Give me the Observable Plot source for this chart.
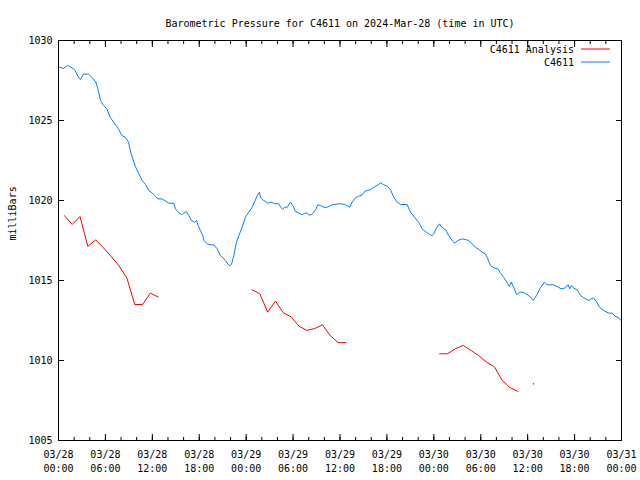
<!DOCTYPE html>
<html>
<head>
<meta charset="utf-8">
<script src="https://cdn.jsdelivr.net/npm/d3@7"></script>
<script src="https://cdn.jsdelivr.net/npm/@observablehq/plot@0.6"></script>
<style>
  html, body { margin: 0; padding: 0; background: white; }
</style>
</head>
<body>
<div id="chart"></div>
<script>
// ---- data ----
const titleText = "Barometric Pressure for C4611 on 2024-Mar-28 (time in UTC)";
const yLabelText = "milliBars";
const seriesNames = ["C4611 Analysis", "C4611"];
const seriesColors = ["#ff0000", "#0080ff"];
const startDate = "2024-03-28T00:00:00Z";
const endDate = "2024-03-31T00:00:00Z";
const yTicks = [1005, 1010, 1015, 1020, 1025, 1030];

// observed C4611 (hours since 03/28 00:00 UTC)
const blueHours = [0.00,0.64,1.15,1.92,2.14,2.56,2.81,3.20,3.84,4.26,4.77,5.03,5.37,5.75,6.18,6.61,7.03,7.67,8.09,8.53,8.95,9.30,9.85,10.27,10.70,11.13,11.55,11.98,12.40,12.70,13.26,13.68,14.10,14.74,14.96,15.38,15.73,16.02,16.33,16.66,17.01,17.39,17.65,17.86,18.16,18.45,18.58,19.02,19.44,19.86,20.29,20.72,21.36,21.65,21.91,22.12,22.42,22.76,23.06,23.49,23.91,24.34,24.77,25.06,25.41,25.70,25.83,26.12,26.47,26.76,27.20,27.62,28.17,28.39,28.68,28.90,29.25,29.67,29.96,30.31,30.73,31.16,31.46,31.80,32.01,32.31,32.65,32.95,33.16,33.50,33.93,34.36,34.78,35.20,36.06,36.70,37.25,37.56,37.98,38.40,38.84,39.13,39.48,39.90,40.32,40.75,41.18,41.60,42.03,42.46,42.88,43.31,43.73,44.59,45.01,45.52,46.07,46.51,46.93,47.35,47.79,47.99,48.34,48.72,48.94,49.49,49.91,50.35,50.64,51.06,51.62,52.05,52.47,52.90,53.32,53.75,54.18,54.60,54.90,55.24,55.75,56.18,56.52,56.94,57.46,57.67,57.89,58.22,58.57,58.99,59.42,59.94,60.36,60.70,61.13,61.55,62.15,62.49,63.26,63.77,64.28,64.71,65.18,65.38,65.60,65.90,66.33,66.75,67.17,67.81,68.38,68.80,69.18,69.73,70.37,70.81,71.23,71.65,72.00];
const bluePressure = [1028.35,1028.25,1028.44,1028.23,1028.1,1027.7,1027.56,1027.9,1027.9,1027.7,1027.4,1027.0,1026.25,1025.94,1025.73,1025.2,1024.9,1024.48,1024.06,1023.96,1023.65,1022.9,1022.1,1021.67,1021.25,1021.0,1020.62,1020.48,1020.27,1020.1,1020.1,1019.96,1019.83,1019.83,1019.48,1019.23,1019.12,1019.21,1019.31,1019.06,1018.75,1018.64,1018.75,1018.44,1018.12,1017.8,1017.5,1017.29,1017.23,1017.23,1016.98,1016.56,1016.25,1016.04,1015.92,1016.0,1016.56,1017.4,1017.8,1018.33,1018.96,1019.27,1019.58,1019.9,1020.3,1020.52,1020.2,1020.04,1019.94,1019.83,1019.9,1019.8,1019.8,1019.6,1019.44,1019.58,1019.58,1019.9,1019.69,1019.31,1019.21,1019.1,1019.21,1019.21,1019.1,1019.1,1019.27,1019.48,1019.73,1019.69,1019.58,1019.58,1019.69,1019.75,1019.8,1019.73,1019.58,1019.9,1020.17,1020.27,1020.35,1020.56,1020.63,1020.67,1020.83,1020.94,1021.1,1020.98,1020.9,1020.67,1020.2,1019.9,1019.75,1019.75,1019.27,1018.96,1018.64,1018.23,1018.06,1017.92,1017.8,1017.92,1018.29,1018.54,1018.37,1018.17,1017.8,1017.5,1017.33,1017.5,1017.6,1017.56,1017.5,1017.29,1017.08,1016.94,1016.77,1016.67,1016.35,1015.94,1015.77,1015.73,1015.46,1015.2,1014.79,1014.62,1014.9,1014.58,1014.12,1014.27,1014.27,1014.12,1013.96,1013.75,1014.06,1014.48,1014.9,1014.73,1014.73,1014.62,1014.48,1014.52,1014.73,1014.48,1014.69,1014.52,1014.42,1014.06,1013.92,1013.75,1013.92,1013.69,1013.33,1013.12,1012.96,1012.96,1012.75,1012.67,1012.46];

// analysis C4611 (hourly at :45, null = no value)
const redHours = [0.75,1.75,2.75,3.75,4.75,5.75,6.75,7.75,8.75,9.75,10.75,11.75,12.75,13.75, 24.75,25.75,26.75,27.75,28.75,29.75,30.75,31.75,32.75,33.75,34.75,35.75,36.75,37.75, 48.75,49.75,50.75,51.75,52.75,53.75,54.75,55.75,56.75,57.75,58.75,59.75,60.75,61.75];
const redPressure = [1019.06,1018.5,1019.0,1017.13,1017.54,1017.04,1016.49,1015.91,1015.15,1013.5,1013.5,1014.21,1013.97,null,
  1014.42,1014.17,1013.02,1013.71,1012.98,1012.73,1012.15,1011.88,1012.0,1012.23,1011.56,1011.12,1011.12,null,
  1010.42,1010.42,1010.73,1010.94,1010.63,1010.3,1009.9,1009.6,1008.75,1008.3,1008.07,null,1008.54,null];

// ---- build ----
const t0 = new Date(startDate).getTime();
const toDate = h => new Date(t0 + h * 3600e3);
const blue = blueHours.map((h, i) => ({t: toDate(h), p: bluePressure[i]}));
const red = redHours.map((h, i) => ({t: toDate(h), p: redPressure[i]}));
const redIsolated = red.filter((d, i) => d.p != null && (i === 0 || red[i-1].p == null) && (i === red.length - 1 || red[i+1].p == null));

const fmt = d3.utcFormat("%m/%d\n%H:%M");
const majorX = d3.utcHour.every(6).range(new Date(startDate), new Date(new Date(endDate).getTime() + 1));
const minorX = d3.utcHour.every(2).range(new Date(startDate), new Date(new Date(endDate).getTime() + 1));
const blank = () => "";
const font = "'DejaVu Sans Mono', monospace";

const svg = Plot.plot({
  width: 640,
  height: 480,
  marginLeft: 58,
  marginRight: 19,
  marginTop: 40,
  marginBottom: 40,
  style: {fontFamily: font, fontSize: "10px", background: "white", color: "black"},
  x: {type: "utc", domain: [new Date(startDate), new Date(endDate)]},
  y: {domain: [yTicks[0], yTicks[yTicks.length - 1]]},
  marks: [
    Plot.axisX({anchor: "bottom", ticks: minorX, tickSize: -3, tickFormat: blank, label: null}),
    Plot.axisX({anchor: "top", ticks: minorX, tickSize: -3, tickFormat: blank, label: null}),
    Plot.axisX({anchor: "bottom", ticks: majorX, tickSize: -6, tickPadding: 14, tickFormat: fmt, lineHeight: 1.4, label: null}),
    Plot.axisX({anchor: "top", ticks: majorX, tickSize: -6, tickFormat: blank, label: null}),
    Plot.axisY({anchor: "left", ticks: yTicks, tickSize: -6, tickPadding: 12, tickFormat: d => String(d), label: null}),
    Plot.axisY({anchor: "right", ticks: yTicks, tickSize: -6, tickFormat: blank, label: null}),
    Plot.line(blue, {x: "t", y: "p", stroke: seriesColors[1], strokeWidth: 1}),
    Plot.line(red, {x: "t", y: "p", stroke: seriesColors[0], strokeWidth: 1}),
    Plot.dot(redIsolated, {x: "t", y: "p", r: 0.7, fill: seriesColors[0], stroke: null}),
    Plot.frame({stroke: "black"}),
    Plot.text([titleText], {frameAnchor: "top", dy: -21, fontSize: 10}),
    Plot.text([yLabelText], {frameAnchor: "left", rotate: -90, dx: -46, fontSize: 10})
  ]
});

// legend (gnuplot style key, top right inside the frame)
const g = d3.select(svg).append("g").attr("font-family", font).attr("font-size", 10);
seriesNames.forEach((name, i) => {
  const y = 49 + i * 13;
  g.append("text").attr("x", 574).attr("y", y).attr("dy", "0.35em")
    .attr("text-anchor", "end").attr("fill", "black").text(name);
  g.append("line").attr("x1", 581).attr("x2", 610).attr("y1", y).attr("y2", y)
    .attr("stroke", seriesColors[i]).attr("stroke-width", 1);
});

document.getElementById("chart").appendChild(svg);
</script>
</body>
</html>
